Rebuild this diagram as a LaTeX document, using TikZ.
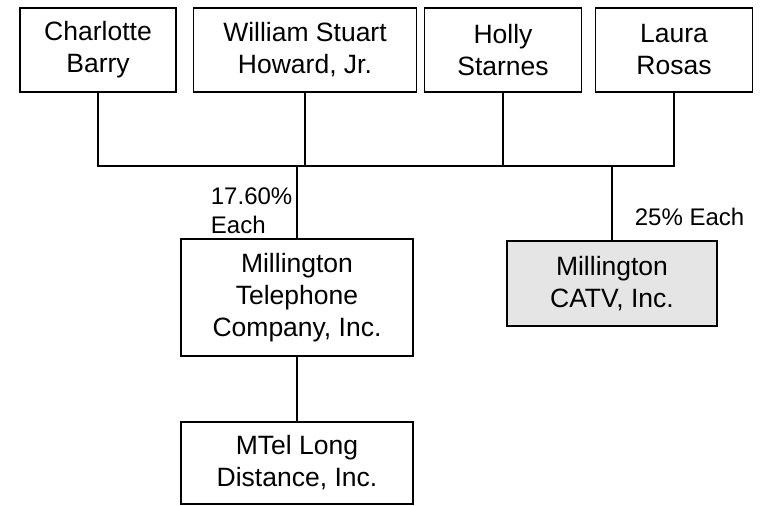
\documentclass[tikz,border=0pt]{standalone}
\usepackage{fontspec}
\setmainfont{Liberation Sans}

\begin{document}
\begin{tikzpicture}[x=1pt,y=-1pt,line width=1.8pt,
  box/.style={draw,align=center,inner sep=0pt,font=\fontsize{26.5}{32}\selectfont},
  pct/.style={inner sep=0pt,align=left,font=\fontsize{24}{29}\selectfont}]
\useasboundingbox (0,0) rectangle (764,506);
% owners
\node[box,minimum width=156,minimum height=84] (charlotte) at (98,50) {Charlotte\\Barry};
\node[box,minimum width=223,minimum height=84] (william) at (305,50) {William Stuart\\Howard, Jr.};
\node[box,minimum width=157,minimum height=84] (holly) at (503,50) {Holly\\Starnes};
\node[box,minimum width=157,minimum height=84] (laura) at (674,50) {Laura\\Rosas};
% companies
\node[box,minimum width=232,minimum height=117] (phone) at (297,297.5) {Millington\\Telephone\\Company, Inc.};
\node[box,fill=black!10,minimum width=210,minimum height=85] (catv) at (612,283.5) {Millington\\CATV, Inc.};
\node[box,minimum width=232,minimum height=82] (ld) at (297,463) {MTel Long\\Distance, Inc.};
\coordinate (bar) at (0,166);
\draw (charlotte.south) -- (charlotte.south |- bar) -- (laura.south |- bar) -- (laura.south);
\draw (william.south) -- (william.south |- bar);
\draw (holly.south) -- (holly.south |- bar);
\draw (phone.north) -- (phone.north |- bar);
\draw (catv.north) -- (catv.north |- bar);
\draw (phone.south) -- (ld.north);
\node[pct,anchor=north west] (phonepct) at (210,187) {17.60\%\\Each};
\node[pct,anchor=base west] (catvpct) at (634,225) {25\% Each};
\end{tikzpicture}
\end{document}
